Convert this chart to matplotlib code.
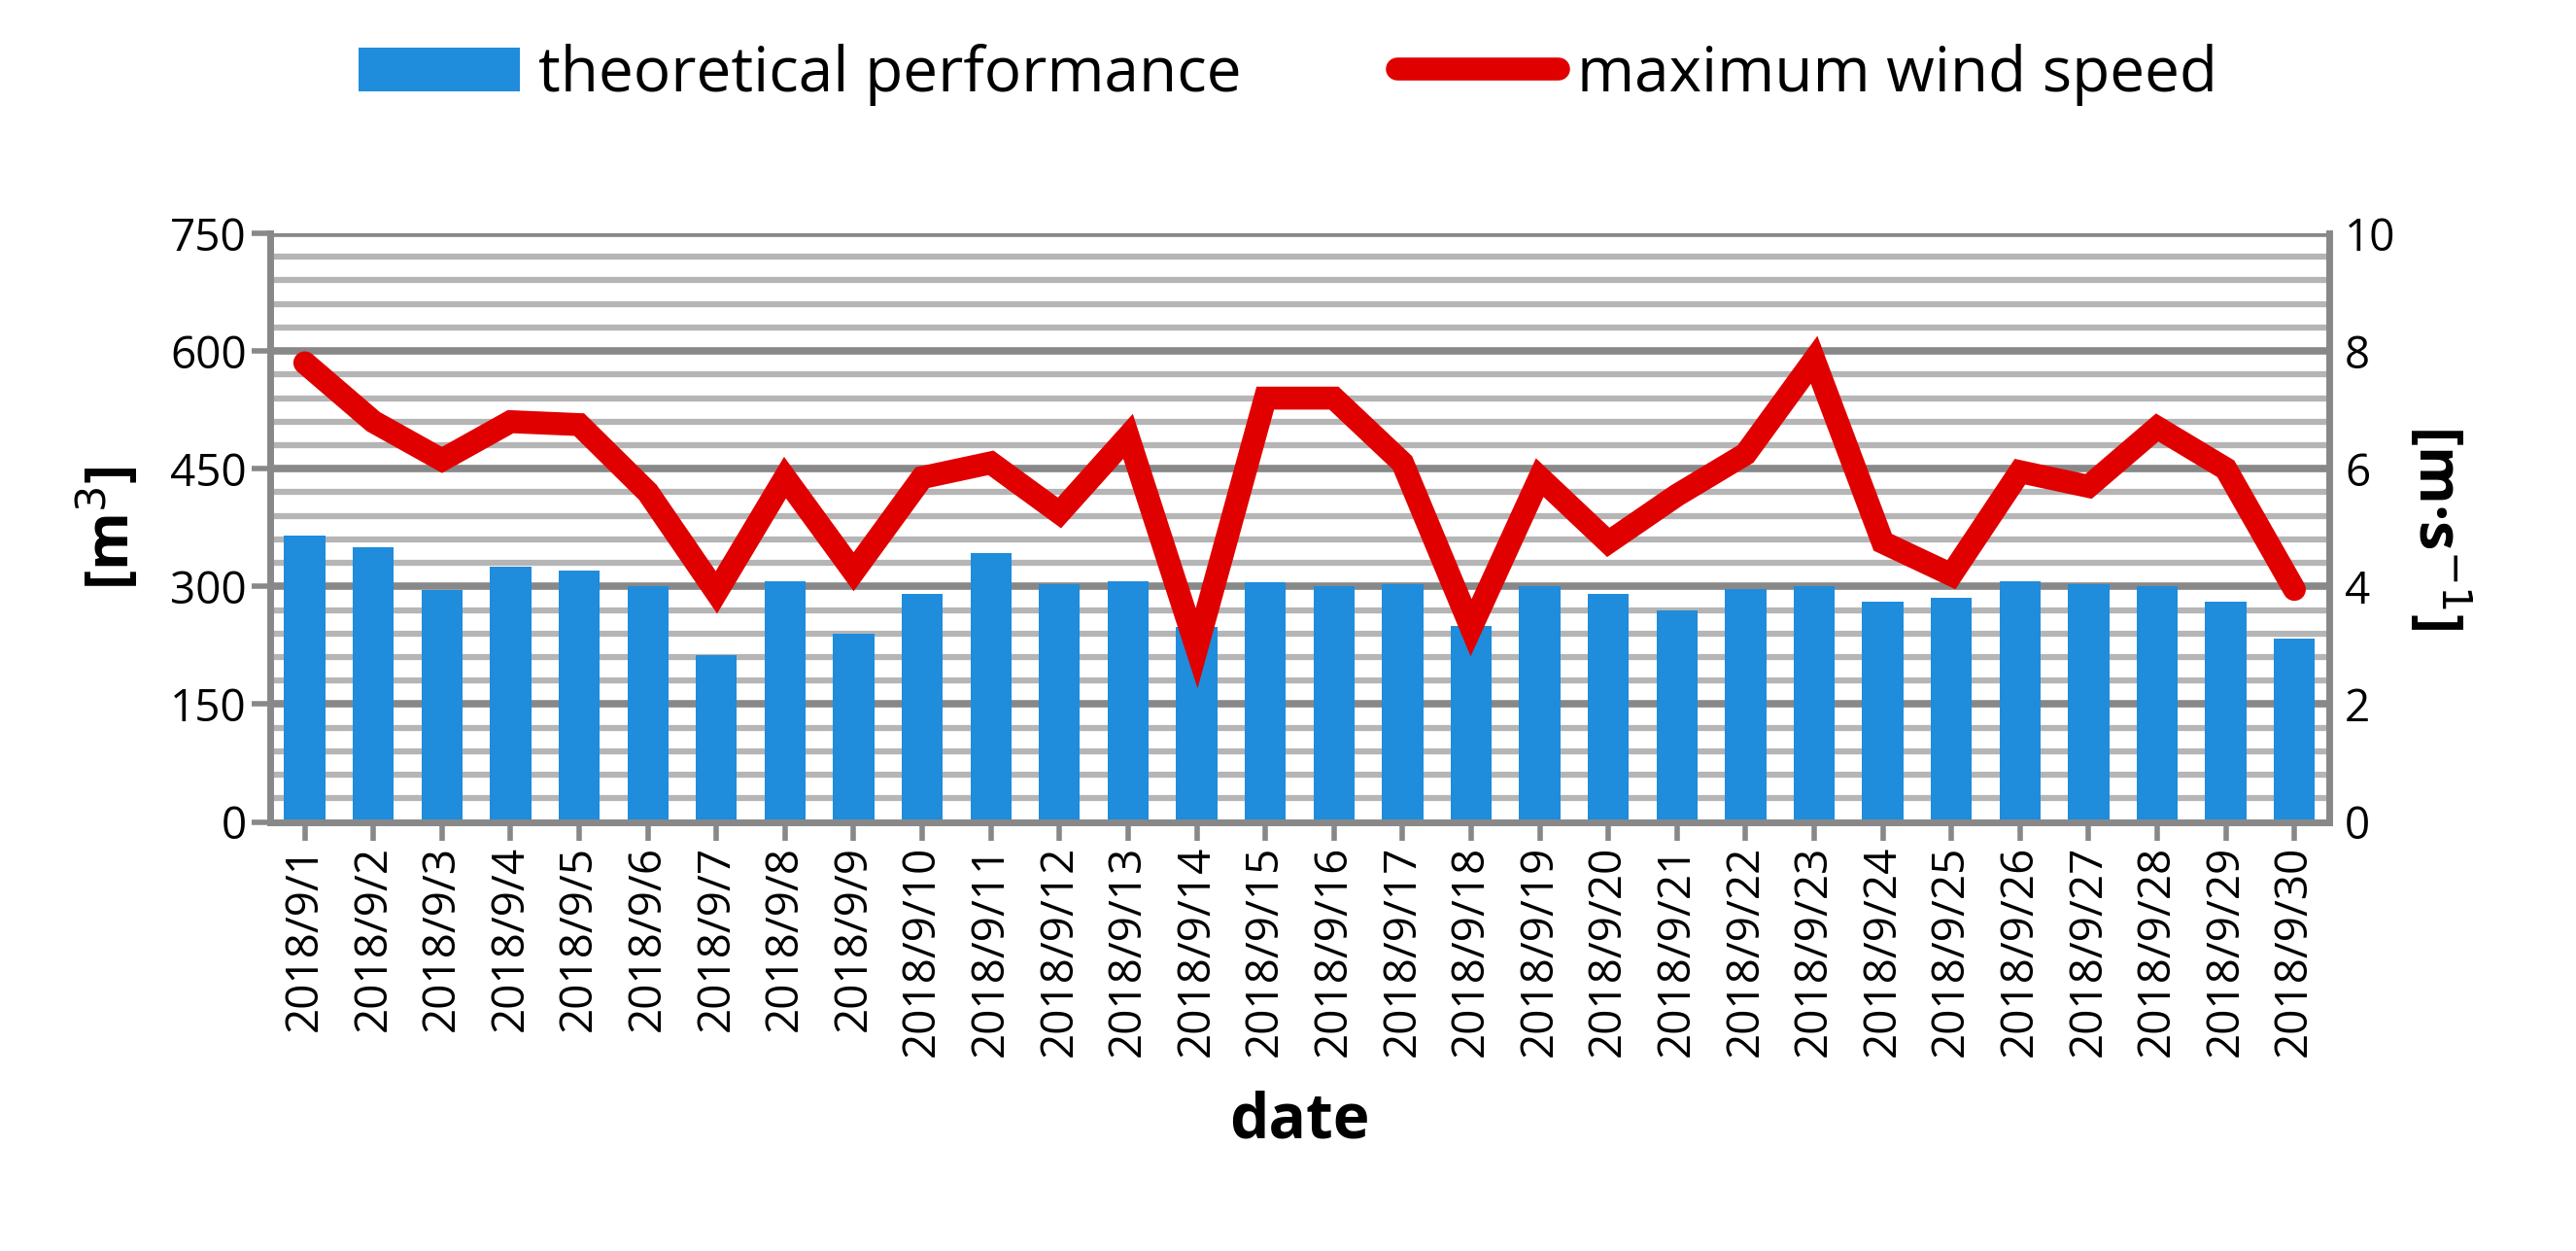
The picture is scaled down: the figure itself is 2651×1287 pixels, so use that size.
import matplotlib
matplotlib.use("Agg")
import matplotlib.pyplot as plt
import numpy as np

dates = [f"2018/9/{d}" for d in range(1, 31)]
performance = [365,350,295,325,320,300,213,307,240,290,343,303,307,248,305,300,303,250,300,290,270,297,300,280,285,307,303,300,280,233]
wind = [7.8,6.8,6.15,6.8,6.75,5.6,3.9,5.85,4.25,5.85,6.1,5.25,6.55,2.95,7.2,7.2,6.1,3.3,5.85,4.75,5.55,6.25,7.85,4.75,4.2,5.95,5.7,6.7,6.0,3.95]
left_ticks = [0,150,300,450,600,750]
right_ticks = [0,2,4,6,8,10]

plt.rcParams['font.family'] = ['Open Sans', 'DejaVu Sans']
fig = plt.figure(figsize=(26.51, 12.87), dpi=100)
ax = fig.add_axes([0.105, 0.343, 0.799, 0.4705])
x = np.arange(len(dates))
for v in np.arange(30, 750, 30):
    ax.axhline(v, color='#b5b5b5' if v % 150 else '#888888', lw=4.5 if v % 150 else 5.5, zorder=0)
ax.axhline(750, color='#888888', lw=5.5, zorder=0)
b = ax.bar(x, performance, width=0.6, color='#1f8cdc', zorder=2, label='theoretical performance')
ax.set_ylim(0, 750)
ax.set_xlim(-0.5, len(dates) - 0.5)
ax.set_yticks(left_ticks)
ax.set_xticks(x)
ax.set_xticklabels(dates, rotation=90)
ax.tick_params(axis='y', labelsize=33, length=14, width=4, color='#888888', direction='out')
ax.tick_params(axis='x', labelsize=33, length=14, width=4, color='#888888')
for s in ['left', 'right', 'bottom']:
    ax.spines[s].set_color('#888888'); ax.spines[s].set_linewidth(5)
ax.spines['top'].set_visible(False)
ax.set_ylabel('[m$^3$]', fontsize=44, fontweight='bold', labelpad=20)
ax.set_xlabel('date', fontsize=46, fontweight='bold', labelpad=25)

ax2 = ax.twinx()
l, = ax2.plot(x, wind, color='#e00000', lw=17, solid_capstyle='round', solid_joinstyle='miter', zorder=3, label='maximum wind speed')
ax2.set_ylim(0, 10)
ax2.set_yticks(right_ticks)
ax2.tick_params(axis='y', labelsize=33, length=0, pad=12)
for s in ax2.spines.values():
    s.set_visible(False)
ax2.set_ylabel('[m·s$^{-1}$]', fontsize=44, fontweight='bold', rotation=270, labelpad=55)

fig.legend([b, l], ['theoretical performance', 'maximum wind speed'], loc='upper center',
           bbox_to_anchor=(0.5, 1.01), ncol=2, fontsize=46, frameon=False,
           handlelength=2.6, handletextpad=0.3, columnspacing=2.5)
fig.savefig('out.png', dpi=100)
